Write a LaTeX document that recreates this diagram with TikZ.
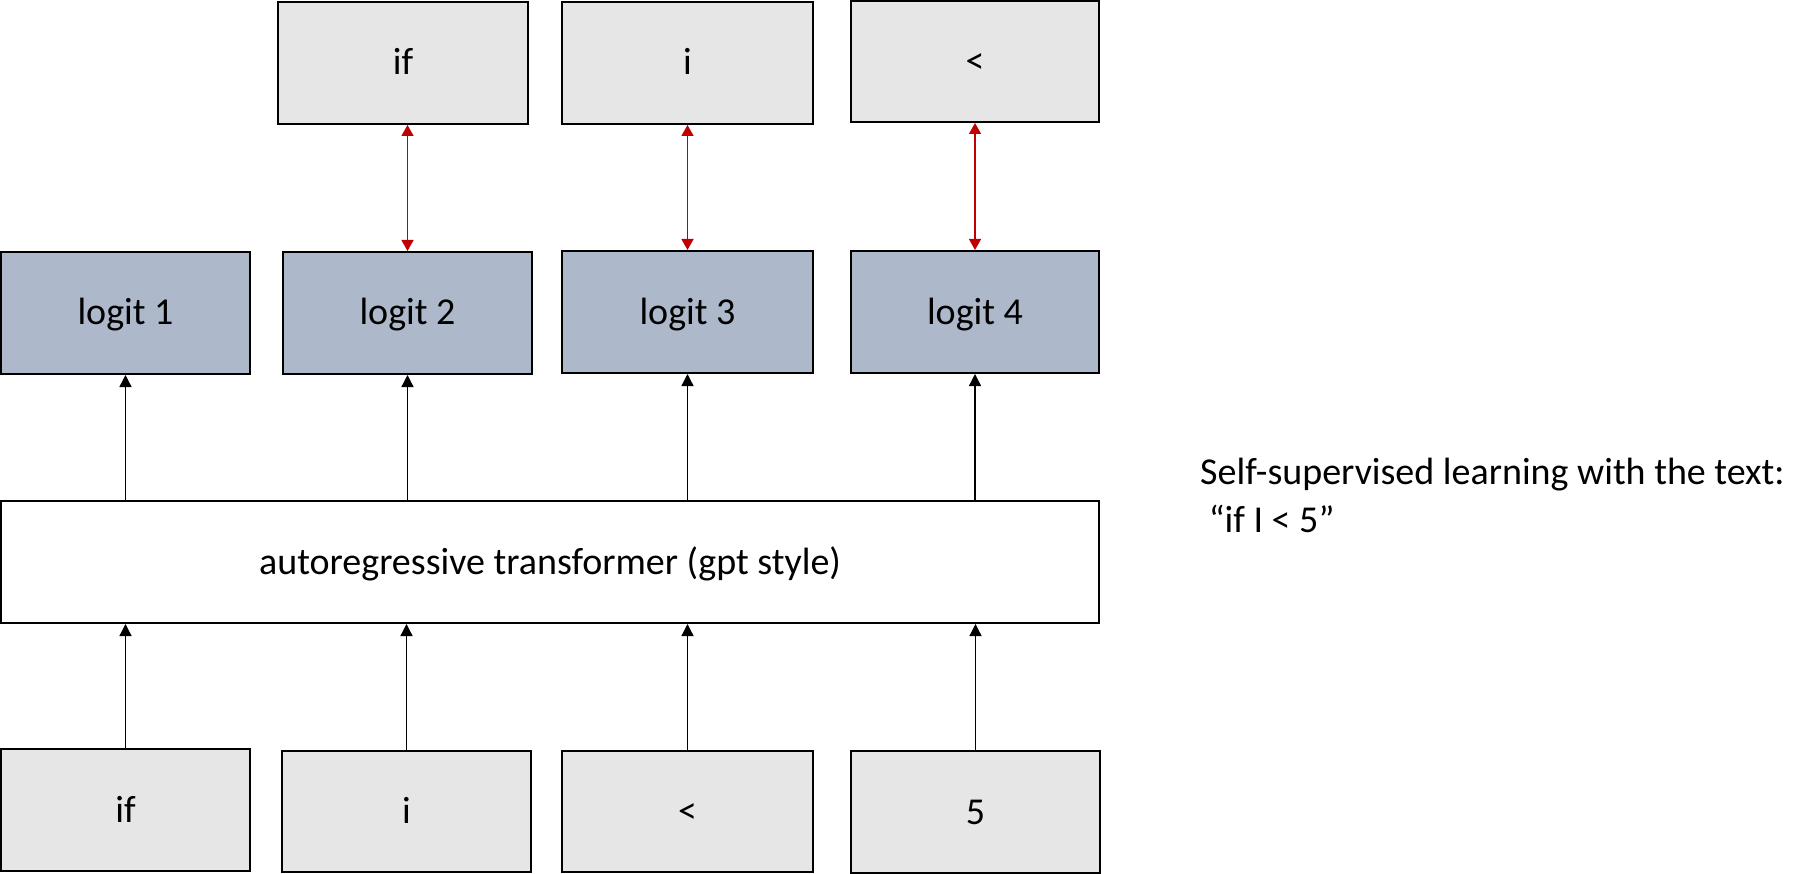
\documentclass[tikz,border=0pt]{standalone}
\usepackage{fontspec}
\setmainfont{Carlito}
\usetikzlibrary{arrows.meta}
\definecolor{tokfill}{HTML}{E7E6E6}
\definecolor{logfill}{HTML}{ADB9CA}
\definecolor{redarr}{HTML}{C00000}
\begin{document}
\begin{tikzpicture}[x=1pt,y=-1pt,
  box/.style={draw=black,line width=2pt,inner sep=0pt,text height=30pt,text depth=6pt,font=\fontsize{38}{46}\selectfont},
  tok/.style={box,fill=tokfill},
  logit/.style={box,fill=logfill},
  flow/.style={draw=black,line width=1.3pt,-{Triangle[width=12pt,length=12pt]}},
  match/.style={draw=redarr,line width=1.3pt,{Triangle[width=12pt,length=11pt]}-{Triangle[width=12pt,length=11pt]}}
]
\useasboundingbox (0,0) rectangle (1803,874);
% top targets
\node[tok,minimum width=250pt,minimum height=122pt] (t1) at (403,63) {if};
\node[tok,minimum width=251pt,minimum height=122pt] (t2) at (687.5,63) {i};
\node[tok,minimum width=248pt,minimum height=121pt] (t3) at (975,61.5) {<};
% logits
\node[logit,minimum width=249pt,minimum height=122pt] (l1) at (125.5,313) {logit 1};
\node[logit,minimum width=249pt,minimum height=122pt] (l2) at (407.5,313) {logit 2};
\node[logit,minimum width=251pt,minimum height=122pt] (l3) at (687.5,312) {logit 3};
\node[logit,minimum width=248pt,minimum height=122pt] (l4) at (975,312) {logit 4};
% transformer
\node[box,fill=white,minimum width=1098pt,minimum height=122pt] (tr) at (550,562) {autoregressive transformer (gpt style)};
% inputs
\node[tok,minimum width=249pt,minimum height=122pt] (b1) at (125.5,810) {if};
\node[tok,minimum width=249pt,minimum height=121pt] (b2) at (406.5,811.5) {i};
\node[tok,minimum width=251pt,minimum height=121pt] (b3) at (687.5,811.5) {<};
\node[tok,minimum width=249pt,minimum height=122pt] (b4) at (975.5,812) {5};
% arrows inputs -> transformer, transformer -> logits
\foreach \i in {1,2,3,4} {
  \draw[flow] (b\i.north) -- (b\i.north |- tr.south);
  \draw[flow] (l\i.south |- tr.north) -- (l\i.south);
}
% red matching arrows
\draw[match] (t1.south -| l2.north) -- (l2.north);
\draw[match] (t2.south -| l3.north) -- (l3.north);
\draw[match] (t3.south -| l4.north) -- (l4.north);
% side note
\node[anchor=west,align=left,inner sep=0pt,font=\fontsize{38}{48}\selectfont] (note) at (1200,495)
  {Self-supervised learning with the text:\\\ “if I < 5”};
\end{tikzpicture}
\end{document}
